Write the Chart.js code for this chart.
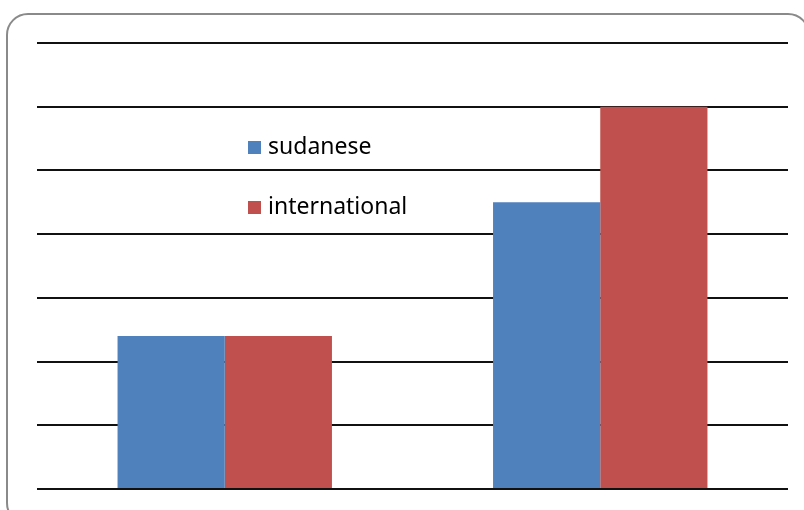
<!DOCTYPE html>
<html>
<head>
<meta charset="utf-8">
<script src="https://cdn.jsdelivr.net/npm/chart.js@4"></script>
<style>
  html, body { margin: 0; padding: 0; background: #fff; overflow: hidden; }
  #wrap { position: relative; width: 804px; height: 510px; }
  #frame {
    position: absolute; left: 6px; top: 13px; width: 804px; height: 512px;
    border: 2px solid #8a8a8a; border-radius: 22px; box-sizing: border-box;
  }
  canvas { position: absolute; left: 0; top: 0; }
</style>
</head>
<body>
<div id="wrap">
  <div id="frame"></div>
  <canvas id="chart" width="804" height="510"></canvas>
</div>
<script>
// data (no axis labels shown, scale 0..7)
const categories = ['1', '2'];
const seriesNames = ['sudanese', 'international'];
const sudanese = [2.4, 4.5];
const international = [2.4, 6.0];
const yTicks = [0, 1, 2, 3, 4, 5, 6, 7];

const seriesColors = ['#4F81BD', '#C0504D'];

// legend sits inside the plot, drawn by hand at the spot Excel put it
const insideLegend = {
  id: 'insideLegend',
  afterDraw(chart) {
    const ctx = chart.ctx;
    ctx.save();
    ctx.font = '23px "Noto Sans"';
    ctx.textBaseline = 'middle';
    chart.data.datasets.forEach((ds, i) => {
      const y = 147 + i * 60;
      ctx.fillStyle = ds.backgroundColor;
      ctx.fillRect(248, y - 6, 13, 13);
      ctx.fillStyle = '#000';
      ctx.fillText(ds.label, 268, y);
    });
    ctx.restore();
  }
};

new Chart(document.getElementById('chart').getContext('2d'), {
  type: 'bar',
  data: {
    labels: categories,
    datasets: [
      { label: seriesNames[0], data: sudanese, backgroundColor: seriesColors[0] },
      { label: seriesNames[1], data: international, backgroundColor: seriesColors[1] }
    ]
  },
  options: {
    responsive: false,
    animation: false,
    layout: { padding: { left: 37, right: 16, top: 43, bottom: 13 } },
    datasets: { bar: { categoryPercentage: 0.571, barPercentage: 1.0 } },
    scales: {
      x: {
        grid: { display: false },
        border: { display: false },
        ticks: { display: false }
      },
      y: {
        min: yTicks[0],
        max: yTicks[yTicks.length - 1],
        afterBuildTicks: (axis) => { axis.ticks = yTicks.map(v => ({ value: v })); },
        ticks: { display: false },
        border: { display: false },
        grid: { color: '#111', lineWidth: 2, drawTicks: false }
      }
    },
    plugins: {
      legend: { display: false },
      tooltip: { enabled: false }
    }
  },
  plugins: [insideLegend]
});
</script>
</body>
</html>
